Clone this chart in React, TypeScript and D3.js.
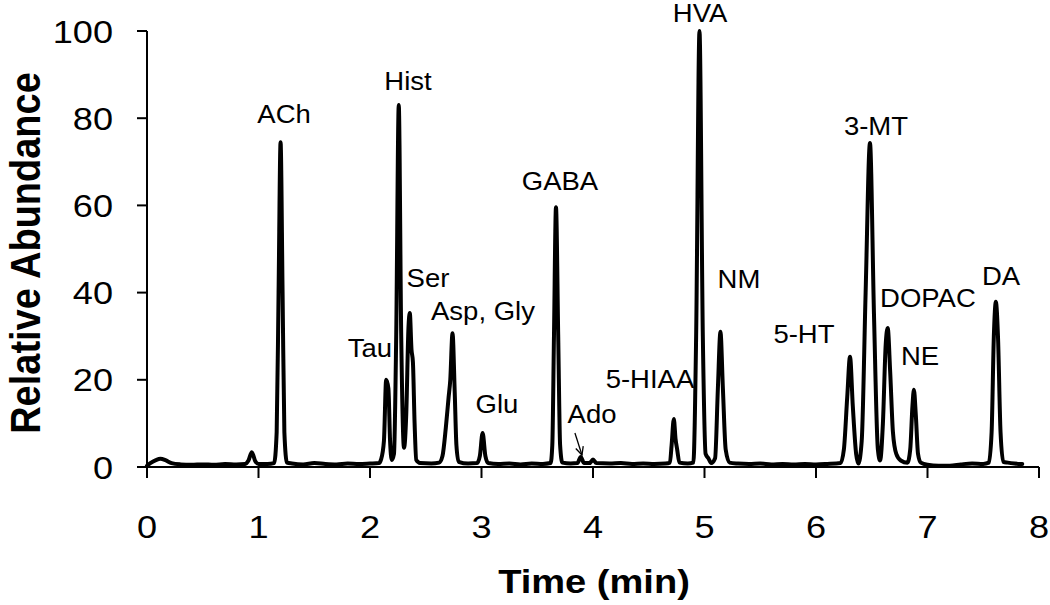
import React from "react";
import * as d3 from "d3";

// Chromatogram trace: [time (min), relative abundance]
const trace: [number, number][] = [
  [0.0, 0.3], [0.03, 0.9], [0.08, 1.6], [0.12, 1.9], [0.17, 1.5], [0.22, 0.9],
  [0.3, 0.6], [0.4, 0.5], [0.5, 0.6], [0.6, 0.5], [0.7, 0.7], [0.8, 0.6],
  [0.88, 0.7], [0.91, 1.5], [0.94, 3.4], [0.97, 1.4], [1.0, 0.7], [1.08, 0.7],
  [1.14, 0.9], [1.163, 8], [1.18, 40], [1.198, 74.5], [1.216, 40], [1.232, 8],
  [1.255, 1.0], [1.3, 0.8], [1.4, 0.6], [1.5, 0.9], [1.6, 0.7], [1.7, 0.6],
  [1.8, 0.8], [1.9, 0.7], [2.0, 0.8], [2.08, 0.9], [2.1, 1.8], [2.125, 6],
  [2.145, 20], [2.165, 18], [2.18, 6], [2.195, 1.6], [2.215, 3], [2.235, 30],
  [2.258, 83], [2.28, 30], [2.305, 4.4], [2.325, 12], [2.345, 32], [2.357, 35.3],
  [2.372, 27], [2.385, 24], [2.4, 10], [2.415, 1.6], [2.45, 0.9], [2.55, 0.8],
  [2.62, 1.0], [2.65, 2.5], [2.68, 9], [2.705, 16], [2.72, 20], [2.74, 30.7],
  [2.76, 17], [2.775, 5], [2.795, 1.2], [2.88, 0.8], [2.96, 0.9], [2.985, 2.5],
  [3.01, 7.8], [3.035, 2.5], [3.06, 0.9], [3.15, 0.7], [3.25, 0.8], [3.35, 0.6],
  [3.45, 0.8], [3.55, 0.7], [3.62, 0.9], [3.635, 5], [3.65, 30], [3.668, 59.6],
  [3.688, 30], [3.705, 5], [3.725, 1.0], [3.8, 0.8], [3.86, 0.9], [3.89, 2.3],
  [3.92, 0.9], [3.97, 0.9], [4.0, 1.7], [4.03, 0.9], [4.15, 0.8], [4.25, 0.9],
  [4.35, 0.7], [4.45, 0.8], [4.55, 0.7], [4.65, 0.8], [4.69, 1.0], [4.705, 5],
  [4.725, 11], [4.74, 6.5], [4.755, 4], [4.775, 1.0], [4.85, 0.8], [4.9, 1.0],
  [4.925, 30], [4.955, 100], [4.985, 30], [5.01, 3], [5.035, 2], [5.06, 0.9],
  [5.095, 2], [5.12, 18], [5.143, 31], [5.165, 18], [5.19, 4], [5.225, 1.0],
  [5.3, 0.8], [5.4, 0.7], [5.5, 0.8], [5.6, 0.6], [5.7, 0.7], [5.8, 0.6],
  [5.9, 0.7], [6.0, 0.6], [6.1, 0.7], [6.22, 0.9], [6.25, 4], [6.28, 16],
  [6.305, 25.3], [6.33, 14], [6.36, 3], [6.38, 0.8], [6.41, 6], [6.445, 40],
  [6.484, 74.3], [6.52, 35], [6.555, 4], [6.575, 1.5], [6.6, 10], [6.625, 28],
  [6.643, 31.9], [6.665, 22], [6.69, 8], [6.72, 3], [6.76, 1.5], [6.82, 1.0],
  [6.845, 4], [6.865, 14], [6.878, 17.7], [6.895, 12], [6.915, 3], [6.94, 1.0],
  [7.0, 0.5], [7.1, 0.3], [7.2, 0.3], [7.3, 0.6], [7.4, 0.8], [7.5, 0.7],
  [7.55, 1.0], [7.575, 8], [7.595, 30], [7.613, 37.9], [7.632, 30], [7.655, 8],
  [7.68, 1.2], [7.72, 1.0], [7.78, 0.8], [7.85, 0.7],
];

// Peak labels: [name, time, abundance] (text anchor point in data units)
const peakLabels: [string, number, number][] = [
  ["ACh", 1.229, 78.9],
  ["Hist", 2.341, 86.5],
  ["Tau", 2.0, 25.2],
  ["Ser", 2.52, 41.3],
  ["Asp, Gly", 3.013, 33.7],
  ["Glu", 3.139, 12.4],
  ["GABA", 3.704, 63.5],
  ["Ado", 3.991, 10.1],
  ["5-HIAA", 4.511, 18.1],
  ["HVA", 4.96, 102],
  ["NM", 5.309, 41],
  ["5-HT", 5.892, 28.4],
  ["3-MT", 6.538, 76.1],
  ["DOPAC", 7.004, 36.7],
  ["NE", 6.933, 23.4],
  ["DA", 7.659, 41.7],
];

// Arrow for Ado: [from time, from abundance, to time, to abundance]
const adoArrow: [number, number, number, number] = [3.838, 7.8, 3.901, 2.75];

const xTicks = [0, 1, 2, 3, 4, 5, 6, 7, 8];
const yTicks = [0, 20, 40, 60, 80, 100];

const FONT = "'Liberation Sans', Arial, Helvetica, sans-serif";
const SX = 1.13;

export default function App() {
  const x = d3.scaleLinear().domain([0, 8]).range([147, 1039]);
  const y = d3.scaleLinear().domain([0, 100]).range([467, 31]);
  const line = d3
    .line<[number, number]>()
    .x((d) => x(d[0]))
    .y((d) => y(d[1]))
    .curve(d3.curveMonotoneX);

  const [a0, a1, a2, a3] = adoArrow;
  const ax0 = x(a0), ay0 = y(a1), ax1 = x(a2), ay1 = y(a3);
  const ang = Math.atan2(ay1 - ay0, ax1 - ax0);
  const hl = 9, ha = 0.45;
  const h1 = [ax1 - hl * Math.cos(ang - ha), ay1 - hl * Math.sin(ang - ha)];
  const h2 = [ax1 - hl * Math.cos(ang + ha), ay1 - hl * Math.sin(ang + ha)];

  return (
    <svg
      width={1050}
      height={605}
      style={{ position: "absolute", left: 0, top: 0, background: "#fff" }}
      fontFamily={FONT}
    >
      <rect x={0} y={0} width={1050} height={605} fill="#fff" />
      {/* axes */}
      <line x1={x(0)} x2={x(0)} y1={y(100)} y2={y(0)} stroke="#000" strokeWidth={2} />
      <line x1={x(0)} x2={x(8)} y1={y(0)} y2={y(0)} stroke="#000" strokeWidth={2} />
      {yTicks.map((t) => (
        <g key={"y" + t}>
          <line x1={x(0) - 10} x2={x(0)} y1={y(t)} y2={y(t)} stroke="#000" strokeWidth={2} />
          <text
            transform={`translate(${x(0) - 34},${y(t) + 11.5}) scale(${SX},1)`}
            textAnchor="end"
            fontSize={32}
            fill="#000"
          >
            {t}
          </text>
        </g>
      ))}
      {xTicks.map((t) => (
        <g key={"x" + t}>
          <line x1={x(t)} x2={x(t)} y1={y(0)} y2={y(0) + 11} stroke="#000" strokeWidth={2} />
          <text
            transform={`translate(${x(t)},${538}) scale(${SX},1)`}
            textAnchor="middle"
            fontSize={32}
            fill="#000"
          >
            {t}
          </text>
        </g>
      ))}
      {/* axis titles */}
      <text
        transform={`translate(${594},${593}) scale(1.12,1)`}
        textAnchor="middle"
        fontSize={34}
        fontWeight="bold"
        fill="#000"
      >
        Time (min)
      </text>
      <text
        transform={`translate(${40},${253}) scale(1.12,1) rotate(-90)`}
        textAnchor="middle"
        fontSize={38}
        fontWeight="bold"
        fill="#000"
      >
        Relative Abundance
      </text>
      {/* trace */}
      <path
        d={line(trace) || ""}
        fill="none"
        stroke="#000"
        strokeWidth={4}
        strokeLinejoin="round"
        strokeLinecap="round"
      />
      {/* peak labels */}
      {peakLabels.map(([name, t, v]) => (
        <text
          key={name}
          transform={`translate(${x(t)},${y(v)}) scale(1.1,1)`}
          textAnchor="middle"
          fontSize={25}
          fill="#000"
        >
          {name}
        </text>
      ))}
      {/* Ado arrow */}
      <line x1={ax0} y1={ay0} x2={ax1} y2={ay1} stroke="#000" strokeWidth={1.3} />
      <path
        d={`M${h1[0]},${h1[1]} L${ax1},${ay1} L${h2[0]},${h2[1]}`}
        fill="none"
        stroke="#000"
        strokeWidth={1.3}
      />
    </svg>
  );
}
